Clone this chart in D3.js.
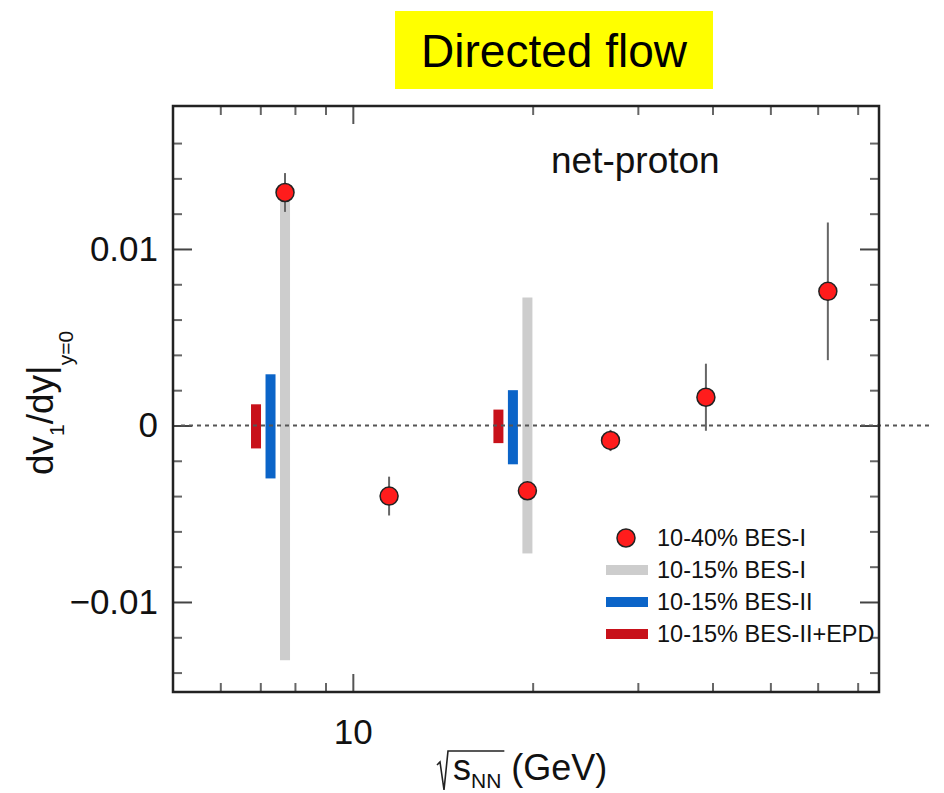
<!DOCTYPE html>
<html lang="en">
<head>
    <meta charset="UTF-8">
    <script src="https://cdnjs.cloudflare.com/ajax/libs/d3/7.8.5/d3.min.js"></script>
    <title>Directed flow</title>
    <style>
        body { margin: 0; background: #fff; }
        svg { font-family: "Liberation Sans", Arial, Helvetica, sans-serif; }
    </style>
</head>
<body>
<div id="container"></div>
<script>
    // 10-40% BES-I net-proton dv1/dy at y=0
    var energies = [7.7, 11.5, 19.6, 27, 39, 62.4];
    var slope = [0.0132, -0.0040, -0.0037, -0.00085, 0.0016, 0.0076];
    var slopeErr = [0.0011, 0.0011, 0.0004, 0.0006, 0.0019, 0.0039];

    // 10-15% bands (low / high edges)
    var bandEnergies = [7.7, 19.6];
    var besIlo = [-0.0133, -0.00725], besIhi = [0.0136, 0.00725];
    var besIIlo = [-0.0030, -0.0022], besIIhi = [0.0029, 0.0020];
    var epdLo = [-0.0013, -0.0010], epdHi = [0.0012, 0.0009];

    var xMinorTicks = [6, 7, 8, 9, 20, 30, 40, 50, 60, 70];
    var xMajorTicks = [10];
    var yMajorTicks = [-0.01, 0, 0.01];
    var yMinorTicks = [-0.014, -0.012, -0.008, -0.006, -0.004, -0.002, 0.002, 0.004, 0.006, 0.008, 0.012, 0.014, 0.016];

    var legendLabels = ["10-40% BES-I", "10-15% BES-I", "10-15% BES-II", "10-15% BES-II+EPD"];

    var width = 944, height = 793,
        margin = {left: 173, top: 106, right: 65, bottom: 101};
    var cw = width - margin.left - margin.right;
    var ch = height - margin.top - margin.bottom;

    var svg = d3.select("#container").append("svg").attr("width", width).attr("height", height);
    var g = svg.append("g").attr("transform", `translate(${margin.left},${margin.top})`);

    var x = d3.scaleLog().domain([5, 76]).range([0, cw]);
    var y = d3.scaleLinear().domain([-0.0151, 0.0181]).range([ch, 0]);

    // ticks (inward on all four sides)
    function tickAxis(axis, vals, len, transform, color) {
        g.append("g").attr("transform", transform)
            .call(axis.tickValues(vals).tickSize(len).tickFormat(""))
            .call(s => s.select(".domain").remove())
            .call(s => s.selectAll("line").attr("stroke", color).attr("stroke-width", 2));
    }
    tickAxis(d3.axisBottom(x), xMinorTicks, -9, `translate(0,${ch})`, "#666");
    tickAxis(d3.axisBottom(x), xMajorTicks, -18, `translate(0,${ch})`, "#555");
    tickAxis(d3.axisTop(x), xMinorTicks, -9, "translate(0,0)", "#666");
    tickAxis(d3.axisTop(x), xMajorTicks, -18, "translate(0,0)", "#555");
    tickAxis(d3.axisLeft(y), yMinorTicks, -9, "translate(0,0)", "#666");
    tickAxis(d3.axisLeft(y), yMajorTicks, -19, "translate(0,0)", "#444");
    tickAxis(d3.axisRight(y), yMinorTicks, -9, `translate(${cw},0)`, "#666");
    tickAxis(d3.axisRight(y), yMajorTicks, -19, `translate(${cw},0)`, "#444");

    // tick labels
    g.append("g").attr("transform", `translate(0,${ch})`)
        .call(d3.axisBottom(x).tickValues(xMajorTicks).tickSize(0).tickPadding(27).tickFormat(d3.format("d")))
        .call(s => s.select(".domain").remove())
        .call(s => s.selectAll("text").attr("font-size", 35).attr("fill", "#111").attr("font-family", null));
    g.append("g")
        .call(d3.axisLeft(y).tickValues(yMajorTicks).tickSize(0).tickPadding(15).tickFormat(d => d === 0 ? "0" : d3.format(".2f")(d)))
        .call(s => s.select(".domain").remove())
        .call(s => s.selectAll("text").attr("font-size", 35).attr("fill", "#111").attr("font-family", null));

    // bands, offset a little to the left of the nominal energy
    var bands = [
        {lo: besIlo, hi: besIhi, color: "#cdcdcd", dx: 0},
        {lo: besIIlo, hi: besIIhi, color: "#0b64c8", dx: -14.5},
        {lo: epdLo, hi: epdHi, color: "#c8111a", dx: -29}
    ];
    bands.forEach(function(b) {
        g.selectAll(null).data(bandEnergies).enter().append("rect")
            .attr("x", (d) => x(d) + b.dx - 5)
            .attr("width", 10)
            .attr("y", (d, i) => y(b.hi[i]))
            .attr("height", (d, i) => y(b.lo[i]) - y(b.hi[i]))
            .attr("fill", b.color);
    });

    // zero line (runs past the right frame like the original)
    g.append("line")
        .attr("x1", 8).attr("x2", width - margin.left - 14)
        .attr("y1", y(0)).attr("y2", y(0))
        .attr("stroke", "#555").attr("stroke-width", 2).attr("stroke-dasharray", "4,4");

    // error bars + points
    g.selectAll(null).data(energies).enter().append("line")
        .attr("x1", d => x(d)).attr("x2", d => x(d))
        .attr("y1", (d, i) => y(slope[i] + slopeErr[i]))
        .attr("y2", (d, i) => y(slope[i] - slopeErr[i]))
        .attr("stroke", "#666").attr("stroke-width", 2);
    g.selectAll(null).data(energies).enter().append("circle")
        .attr("cx", d => x(d)).attr("cy", (d, i) => y(slope[i]))
        .attr("r", 9)
        .attr("fill", "#ff1c1c").attr("stroke", "#222").attr("stroke-width", 1.5);

    // frame
    g.append("rect").attr("width", cw).attr("height", ch)
        .attr("fill", "none").attr("stroke", "#222").attr("stroke-width", 2.5);

    // net-proton label
    svg.append("text").attr("x", 551).attr("y", 173)
        .attr("font-size", 37).attr("fill", "#111").text("net-proton");

    // legend
    var leg = svg.append("g").attr("transform", "translate(606,538)");
    leg.append("circle").attr("cx", 20).attr("cy", 0).attr("r", 9)
        .attr("fill", "#ff1c1c").attr("stroke", "#222").attr("stroke-width", 1.5);
    bands.forEach(function(b, i) {
        leg.append("rect").attr("x", 0).attr("y", 32 * (i + 1) - 5)
            .attr("width", 42).attr("height", 10).attr("fill", b.color);
    });
    leg.selectAll("text").data(legendLabels).enter().append("text")
        .attr("x", 51).attr("y", (d, i) => 32 * i)
        .attr("dy", "0.36em")
        .attr("font-size", 23.5).attr("fill", "#111")
        .text(d => d);

    // title box
    svg.append("rect").attr("x", 395).attr("y", 11).attr("width", 318).attr("height", 78).attr("fill", "#ffff00");
    svg.append("text").attr("x", 554).attr("y", 67).attr("text-anchor", "middle")
        .attr("font-size", 46).attr("fill", "#000").text("Directed flow");

    // y label
    var yl = svg.append("text").attr("transform", "translate(53,475) rotate(-90)")
        .attr("font-size", 37).attr("fill", "#111");
    yl.append("tspan").text("dv");
    yl.append("tspan").attr("font-size", 21).attr("dy", 11).text("1");
    yl.append("tspan").attr("dy", -11).text("/dy|");
    yl.append("tspan").attr("font-size", 21).attr("dy", 20).text("y=0");

    // x label with radical
    var xl = svg.append("text").attr("x", 453).attr("y", 780)
        .attr("font-size", 36).attr("fill", "#111");
    var sPart = xl.append("tspan").text("s");
    var nnPart = xl.append("tspan").attr("font-size", 21).attr("dy", 8).text("NN");
    xl.append("tspan").attr("dy", -8).text(" (GeV)");
    var xEnd = 453 + sPart.node().getComputedTextLength() + nnPart.node().getComputedTextLength() + 3;
    svg.append("path")
        .attr("d", `M437,765 L440,762 L444,790 L448,751 L${xEnd},751`)
        .attr("fill", "none").attr("stroke", "#222").attr("stroke-width", 1.6);
</script>
</body>
</html>
